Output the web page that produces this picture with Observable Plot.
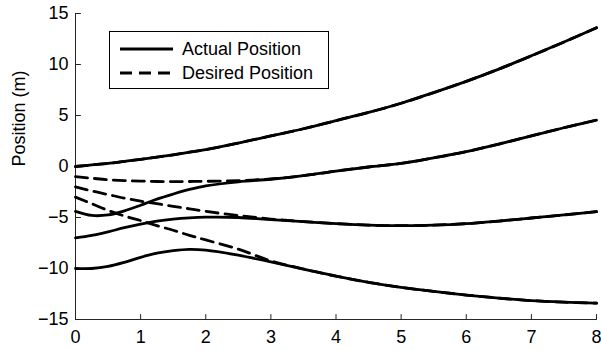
<!DOCTYPE html>
<html><head><meta charset="utf-8">
<script src="https://cdn.jsdelivr.net/npm/d3@7"></script>
<script src="https://cdn.jsdelivr.net/npm/@observablehq/plot@0.6"></script>
<style>
body{margin:0;background:#fff;font-family:"Liberation Sans",Arial,Helvetica,sans-serif;}
#wrap{position:relative;width:601px;height:350px;}
#legend{position:absolute;left:109px;top:31px;width:220px;height:58px;box-sizing:border-box;border:1.3px solid #000;background:#fff;}
#legend .row{position:absolute;left:0;height:24px;display:flex;align-items:center;font-size:18px;color:#000;white-space:nowrap;}
#legend svg{margin-left:10px;margin-right:9px;}
</style></head><body><div id="wrap"></div>
<script>
// x samples (time)
const xs = [0,0.25,0.5,0.75,1,1.25,1.5,1.75,2,2.5,3,3.5,4,4.5,5,5.5,6,6.5,7,7.5,8];
// Actual positions
const actual1 = [0,0.15,0.3,0.5,0.7,0.92,1.15,1.4,1.65,2.3,3.0,3.7,4.5,5.3,6.2,7.25,8.35,9.55,10.85,12.2,13.6];
const actual2 = [-4.4,-4.8,-4.75,-4.35,-3.8,-3.2,-2.7,-2.25,-1.9,-1.5,-1.25,-0.9,-0.45,-0.05,0.3,0.85,1.45,2.2,3.0,3.8,4.55];
const actual3 = [-7,-6.75,-6.4,-6.0,-5.65,-5.35,-5.15,-5.03,-4.97,-5.0,-5.2,-5.4,-5.6,-5.75,-5.8,-5.75,-5.6,-5.35,-5.05,-4.75,-4.42];
const actual4 = [-10,-10,-9.8,-9.4,-8.9,-8.5,-8.25,-8.12,-8.2,-8.7,-9.35,-10.05,-10.75,-11.35,-11.85,-12.25,-12.6,-12.9,-13.15,-13.3,-13.4];
// Desired positions
const desired1 = [0,0.15,0.3,0.5,0.7,0.92,1.15,1.4,1.65,2.3,3.0,3.7,4.5,5.3,6.2,7.25,8.35,9.55,10.85,12.2,13.6];
const desired2 = [-1.0,-1.15,-1.3,-1.38,-1.43,-1.47,-1.48,-1.47,-1.45,-1.38,-1.22,-0.9,-0.45,-0.05,0.3,0.85,1.45,2.2,3.0,3.8,4.55];
const desired3 = [-2,-2.4,-2.75,-3.1,-3.4,-3.65,-3.9,-4.15,-4.4,-4.8,-5.15,-5.4,-5.6,-5.75,-5.8,-5.75,-5.6,-5.35,-5.05,-4.75,-4.42];
const desired4 = [-3,-3.65,-4.3,-4.85,-5.3,-5.8,-6.25,-6.75,-7.2,-8.1,-9.25,-10.05,-10.75,-11.35,-11.85,-12.25,-12.6,-12.9,-13.15,-13.3,-13.4];
// Ticks and labels
const xTicks = [0,1,2,3,4,5,6,7,8];
const yTicks = [-15,-10,-5,0,5,10,15];
const yLabel = "Position (m)";
const legendLabels = ["Actual Position","Desired Position"];

function toRows(list){
  const rows=[];
  list.forEach((ys,k)=>ys.forEach((y,i)=>rows.push({id:k,x:xs[i],y})));
  return rows;
}
const actualRows = toRows([actual1,actual2,actual3,actual4]);
const desiredRows = toRows([desired1,desired2,desired3,desired4]);
const fmt = d => d < 0 ? "\u2212" + (-d) : String(d);
const axisColor = "#262626";
const tickShape = {draw(context, l){ context.moveTo(0, 0); context.lineTo(0, -l); }};

const chart = Plot.plot({
  width: 601, height: 350,
  marginLeft: 75, marginRight: 5, marginTop: 13, marginBottom: 31,
  style: {fontFamily: '"Liberation Sans", Arial, sans-serif', fontSize: "18px", color: "#000", background: "#fff"},
  x: {domain: [0, 8]},
  y: {domain: [-15, 15]},
  marks: [
    Plot.ruleX([0], {stroke: axisColor, strokeWidth: 1}),
    Plot.ruleY([-15], {stroke: axisColor, strokeWidth: 1}),
    // inward ticks
    Plot.vector(xTicks, {x: d => d, y: -15, length: 5, rotate: 0, anchor: "start", shape: tickShape, stroke: axisColor, strokeWidth: 1}),
    Plot.vector(yTicks, {x: 0, y: d => d, length: 5, rotate: 90, anchor: "start", shape: tickShape, stroke: axisColor, strokeWidth: 1}),
    Plot.axisX(xTicks, {tickSize: 0, tickPadding: 11, label: null, tickFormat: fmt, fill: "#000"}),
    Plot.axisY(yTicks, {tickSize: 0, tickPadding: 7, label: null, tickFormat: fmt, fill: "#000"}),
    Plot.text([yLabel], {frameAnchor: "left", text: d => d, rotate: -90, dx: -56, fontSize: 18, fill: "#000"}),
    Plot.line(actualRows, {x: "x", y: "y", z: "id", stroke: "#000", strokeWidth: 2.8, curve: "catmull-rom"}),
    Plot.line(desiredRows, {x: "x", y: "y", z: "id", stroke: "#000", strokeWidth: 2.8, strokeDasharray: "12,7", curve: "catmull-rom"})
  ]
});
const wrap = document.getElementById("wrap");
wrap.appendChild(chart);

// Legend overlay
const legend = document.createElement("div");
legend.id = "legend";
const dashes = [null, "12,7"];
legendLabels.forEach((lab, i) => {
  const row = document.createElement("div");
  row.className = "row";
  row.style.top = (5 + i * 24) + "px";
  const s = d3.create("svg").attr("width", 53).attr("height", 6);
  s.append("line").attr("x1", 0).attr("x2", 53).attr("y1", 3).attr("y2", 3)
    .attr("stroke", "#000").attr("stroke-width", 2.8).attr("stroke-dasharray", dashes[i]);
  row.appendChild(s.node());
  const t = document.createElement("span");
  t.textContent = lab;
  row.appendChild(t);
  legend.appendChild(row);
});
wrap.appendChild(legend);
</script>
</body></html>
